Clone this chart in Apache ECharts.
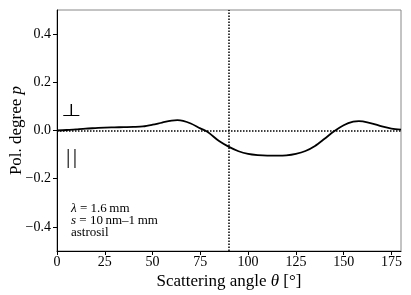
<!DOCTYPE html>
<html>
<head>
<meta charset="utf-8">
<script src="https://cdn.jsdelivr.net/npm/echarts@6/dist/echarts.min.js"></script>
<style>html,body{margin:0;padding:0;background:#fff;}#c{width:411px;height:295px;}</style>
</head>
<body>
<div id="c"></div>
<script>
const thetaDeg = [0, 5, 10, 15, 20, 25, 30, 35, 40, 45, 50, 55, 60, 63, 66, 70, 75, 78, 80, 85, 90, 95, 100, 105, 110, 115, 120, 125, 130, 135, 140, 145, 150, 155, 158, 160, 165, 170, 175, 180];
const polDeg = [0, 0.002, 0.005, 0.008, 0.010, 0.012, 0.013, 0.014, 0.015, 0.017, 0.024, 0.033, 0.041, 0.043, 0.040, 0.029, 0.009, -0.002, -0.013, -0.045, -0.068, -0.086, -0.097, -0.102, -0.104, -0.104, -0.103, -0.097, -0.085, -0.064, -0.034, -0.003, 0.022, 0.037, 0.039, 0.038, 0.029, 0.017, 0.008, 0.004];
const xTicks = [0, 25, 50, 75, 100, 125, 150, 175];
const yTicks = [-0.4, -0.2, 0.0, 0.2, 0.4];
const annotLines = ['{i|λ} = 1.6\u2009mm', '{i|s} = 10\u2009nm–1\u2009mm', 'astrosil'];

const serif = 'Liberation Serif';
const chart = echarts.init(document.getElementById('c'), null, {renderer: 'canvas'});
const pts = thetaDeg.map((t, i) => [t, polDeg[i]]);
chart.setOption({
  animation: false,
  backgroundColor: '#fff',
  grid: {left: 57, right: 10, top: 10, bottom: 44, outerBoundsMode: 'none', containLabel: false,
    show: true, borderColor: '#888', borderWidth: 1, backgroundColor: 'transparent'},
  xAxis: {
    type: 'value', min: 0, max: 180,
    name: 'Scattering angle {i|θ} [°]', nameLocation: 'middle', nameGap: 22, nameMoveOverlap: false,
    nameTextStyle: {fontFamily: serif, fontSize: 17, color: '#000', verticalAlign: 'top', rich: {i: {fontFamily: serif, fontSize: 17, fontStyle: 'italic', color: '#000'}}},
    axisLine: {show: true, onZero: false, lineStyle: {color: '#000', width: 1}},
    axisTick: {show: true, length: 4, inside: false, customValues: xTicks, lineStyle: {color: '#000'}},
    axisLabel: {customValues: xTicks, fontFamily: serif, fontSize: 14, color: '#000', margin: 4},
    splitLine: {show: false}
  },
  yAxis: {
    type: 'value', min: -0.5, max: 0.5,
    name: 'Pol. degree {i|p}', nameLocation: 'middle', nameGap: 32, nameRotate: 90, nameMoveOverlap: false,
    nameTextStyle: {fontFamily: serif, fontSize: 17, color: '#000', rich: {i: {fontFamily: serif, fontSize: 17, fontStyle: 'italic', color: '#000'}}},
    axisLine: {show: true, onZero: false, lineStyle: {color: '#000', width: 1}},
    axisTick: {show: true, length: 4, inside: false, customValues: yTicks, lineStyle: {color: '#000'}},
    axisLabel: {customValues: yTicks, fontFamily: serif, fontSize: 14, color: '#000', margin: 6,
      formatter: v => v.toFixed(1).replace('-', '\u2212')},
    splitLine: {show: false}
  },
  series: [{
    type: 'line', data: pts, smooth: 0.3, showSymbol: false, symbol: 'none',
    lineStyle: {color: '#000', width: 1.8},
    markLine: {
      silent: true, symbol: 'none', label: {show: false},
      lineStyle: {color: '#000', width: 1.5, type: [1.5, 1.5]},
      data: [{yAxis: 0}, {xAxis: 90}]
    }
  }],
  graphic: [
    {type: 'text', x: 61, y: 103, scaleY: 0.75, style: {text: '⊥', font: '23px "DejaVu Sans"', fill: '#000'}},
    {type: 'text', left: 66, top: 146, style: {text: '|', font: '22px "Liberation Serif"', fill: '#000'}},
    {type: 'text', left: 72.7, top: 146, style: {text: '|', font: '22px "Liberation Serif"', fill: '#000'}},
    {type: 'text', left: 71, top: 202, style: {text: annotLines.join('\n'), fontFamily: serif, fontSize: 13, lineHeight: 12, fill: '#000',
      rich: {i: {fontFamily: serif, fontSize: 13, fontStyle: 'italic', fill: '#000', lineHeight: 12}}}}
  ]
});
</script>
</body>
</html>
